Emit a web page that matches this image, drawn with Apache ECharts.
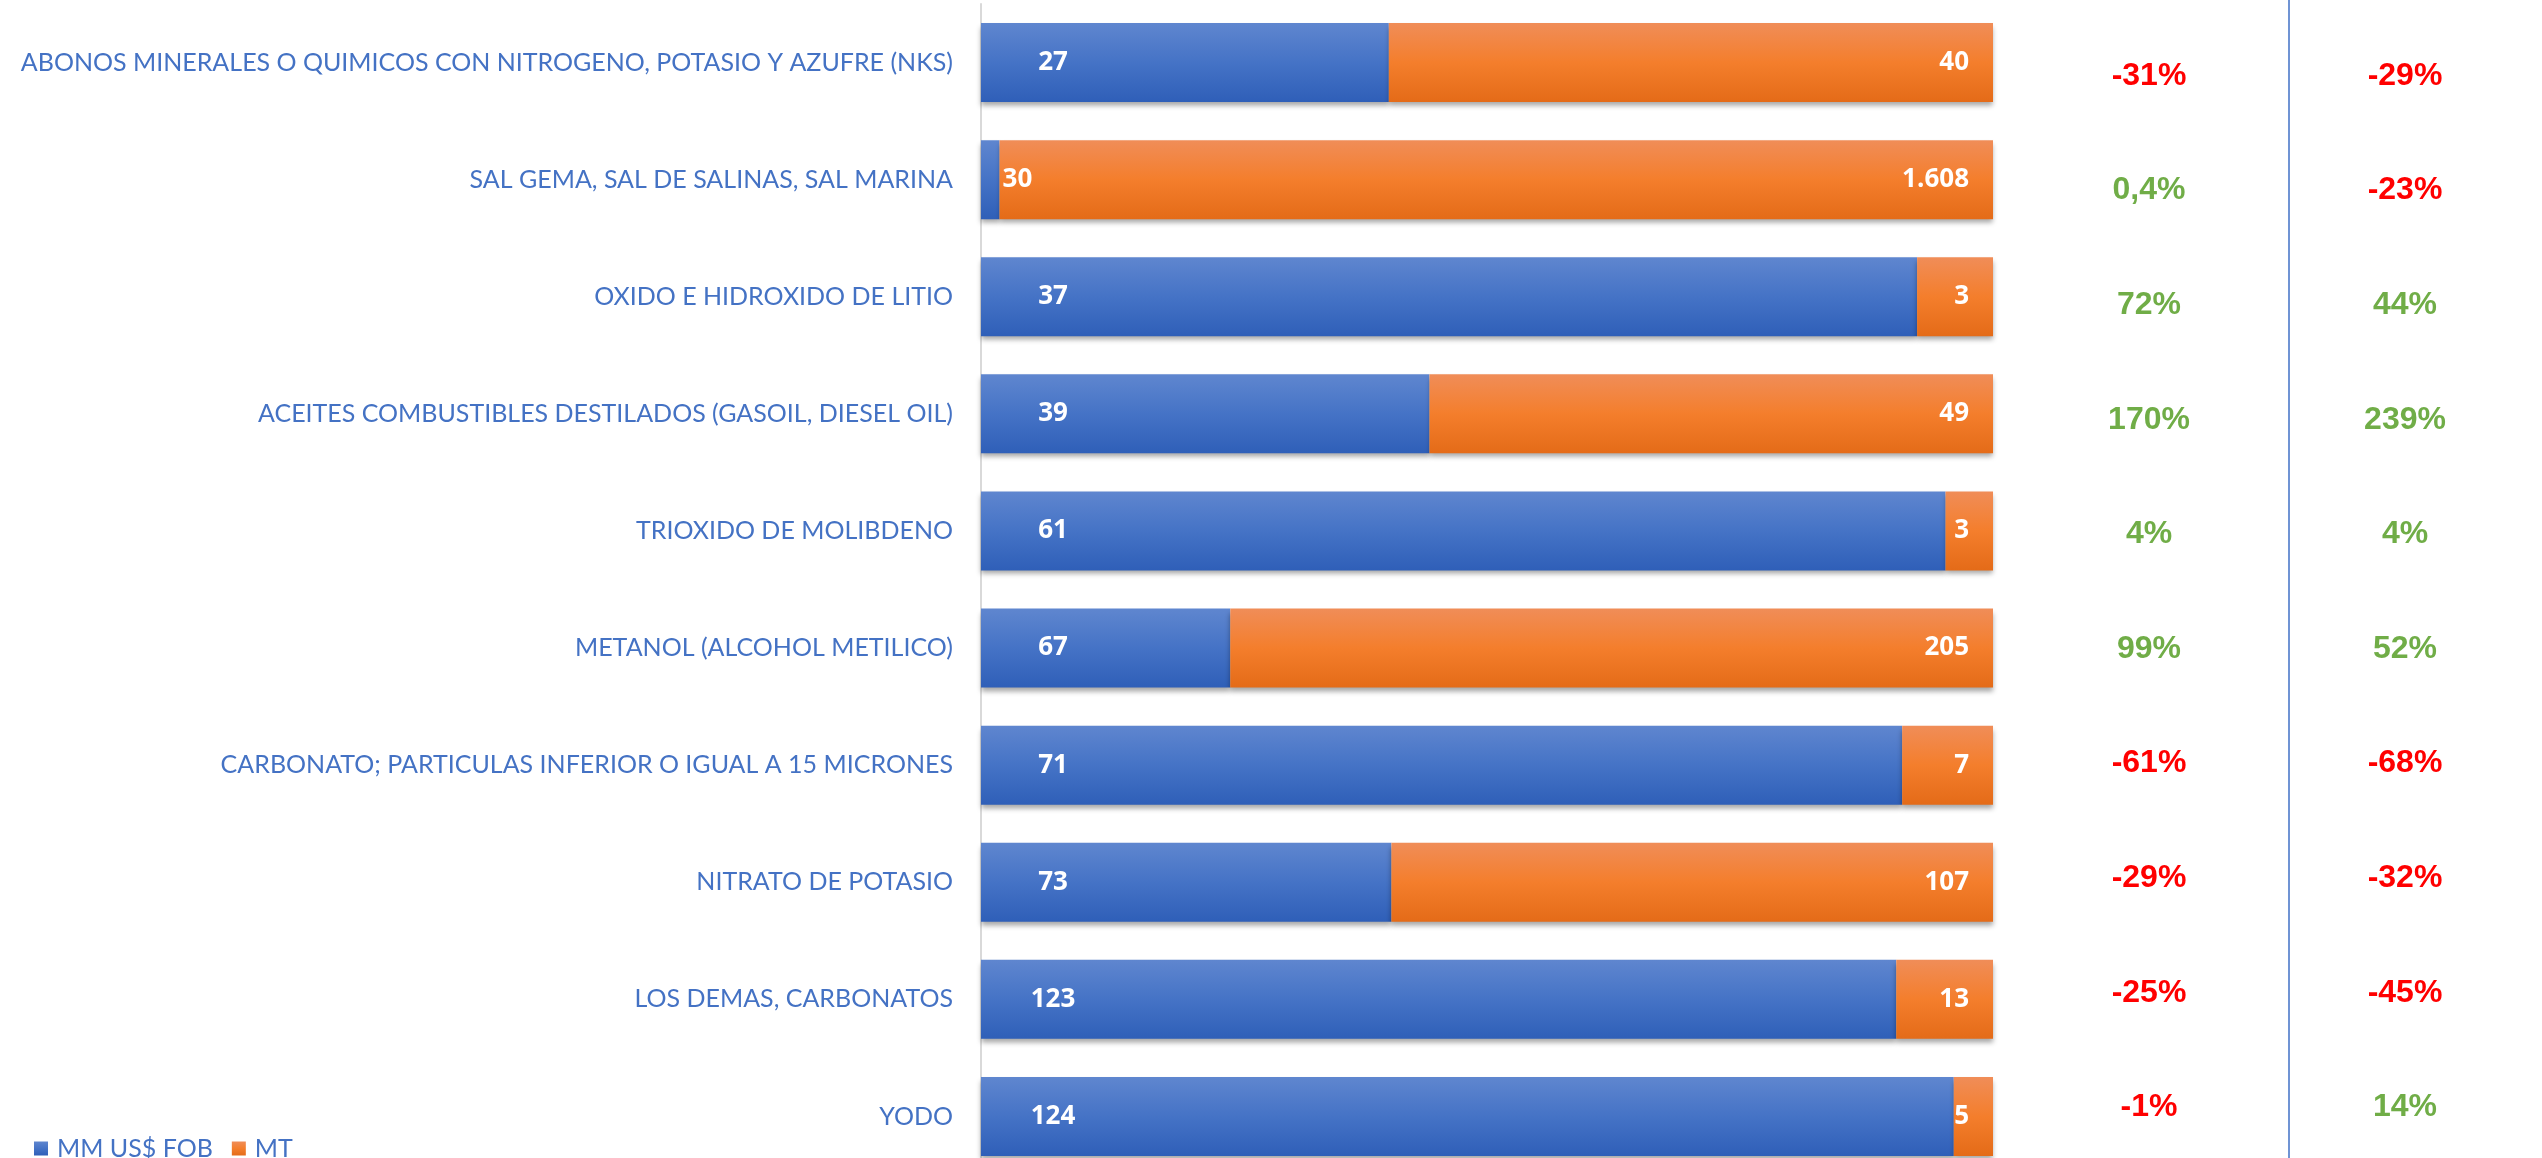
<!DOCTYPE html>
<html>
<head>
<meta charset="utf-8">
<script src="https://cdn.jsdelivr.net/npm/echarts@6/dist/echarts.min.js"></script>
<style>
html,body{margin:0;padding:0;background:#fff;overflow:hidden;}
#chart{width:2542px;height:1200px;}
</style>
</head>
<body>
<div id="chart"></div>
<script>
const categories = [
  'ABONOS MINERALES O QUIMICOS CON NITROGENO, POTASIO Y AZUFRE (NKS)',
  'SAL GEMA, SAL DE SALINAS, SAL MARINA',
  'OXIDO E HIDROXIDO DE LITIO',
  'ACEITES COMBUSTIBLES DESTILADOS (GASOIL, DIESEL OIL)',
  'TRIOXIDO DE MOLIBDENO',
  'METANOL (ALCOHOL METILICO)',
  'CARBONATO; PARTICULAS INFERIOR O IGUAL A 15 MICRONES',
  'NITRATO DE POTASIO',
  'LOS DEMAS, CARBONATOS',
  'YODO'
];
const fobValues = [27, 30, 37, 39, 61, 67, 71, 73, 123, 124];
const mtValues  = [40, 1608, 3, 49, 3, 205, 7, 107, 13, 5];
const varFob = [-31, 0.4, 72, 170, 4, 99, -61, -29, -25, -1];
const varMt  = [-29, -23, 44, 239, 4, 52, -68, -32, -45, 14];
const seriesNames = ['MM US$ FOB', 'MT'];
const varColumns = ['VAR FOB', 'VAR MT'];

function fmtNum(v){ return String(v).replace(/\B(?=(\d{3})+(?!\d))/g, '.'); }
function fmtPct(v){ return String(v).replace('.', ',') + '%'; }

const blueGrad = new echarts.graphic.LinearGradient(0,0,0,1,[
  {offset:0,color:'#5f86cf'},{offset:0.5,color:'#4573c6'},{offset:1,color:'#2f5fb8'}]);
const orangeGrad = new echarts.graphic.LinearGradient(0,0,0,1,[
  {offset:0,color:'#f08d58'},{offset:0.5,color:'#f47e2c'},{offset:1,color:'#e46b18'}]);

const totals = fobValues.map((v,i)=>v+mtValues[i]);
const fobData = fobValues.map((v,i)=>{
  const share = v/totals[i]*100;
  const item = {value: share};
  if (share < 5) item.label = {position:'right', distance:3, align:'left'};
  return item;
});
const mtData = mtValues.map((v,i)=>({value: v/totals[i]*100}));

const labelFont = {color:'#fff', fontFamily:'Open Sans', fontWeight:'bold', fontSize:26};
const shadow = {shadowColor:'rgba(0,0,0,0.35)', shadowBlur:5, shadowOffsetY:4};
const catFont = 'Lato';

function pctData(arr, col){
  return arr.map((v,i)=>({
    value:[col,i],
    label:{formatter: fmtPct(v), color: v < 0 ? '#ff0000' : '#70ad47'}
  }));
}

const pctLabel = {show:true, position:'inside', fontFamily:'Liberation Sans', fontWeight:'bold', fontSize:32, opacity:1};

const chart = echarts.init(document.getElementById('chart'));
chart.setOption({
  animation:false,
  backgroundColor:'#fff',
  legend:{
    data: seriesNames, left:29, top:1131, icon:'rect', itemWidth:14, itemHeight:14, itemGap:19,
    textStyle:{color:'#4472c4', fontFamily:catFont, fontSize:25, padding:[0,0,0,4]}
  },
  grid:[
    {left:981, width:1012, top:4, height:1171},
    {left:2021, width:512, top:18.7, height:1146}
  ],
  xAxis:[
    {type:'value', min:0, max:100, show:false, gridIndex:0},
    {type:'category', data: varColumns, show:false, gridIndex:1}
  ],
  yAxis:[
    {type:'category', data:categories, inverse:true, gridIndex:0,
     axisLine:{show:true, lineStyle:{color:'#d9d9d9', width:2}},
     axisTick:{show:false},
     axisLabel:{color:'#4472c4', fontFamily:catFont, fontSize:25, margin:28}},
    {type:'category', data:categories, inverse:true, gridIndex:1, show:false}
  ],
  series:[
    {name:seriesNames[0], type:'bar', stack:'t', xAxisIndex:0, yAxisIndex:0,
     barCategoryGap:'32.5%', data:fobData,
     itemStyle:Object.assign({color:blueGrad}, shadow),
     label:Object.assign({show:true, position:[72,'50%'], align:'center', verticalAlign:'middle',
       formatter:p=>fmtNum(fobValues[p.dataIndex])}, labelFont)},
    {name:seriesNames[1], type:'bar', stack:'t', xAxisIndex:0, yAxisIndex:0,
     barCategoryGap:'32.5%', data:mtData,
     itemStyle:Object.assign({color:orangeGrad}, shadow),
     label:Object.assign({show:true, position:'insideRight', distance:24,
       formatter:p=>fmtNum(mtValues[p.dataIndex])}, labelFont)},
    {type:'scatter', xAxisIndex:1, yAxisIndex:1, symbolSize:1,
     itemStyle:{color:'rgba(255,255,255,0)', opacity:1},
     emphasis:{disabled:true},
     data: pctData(varFob, 0), label:pctLabel},
    {type:'scatter', xAxisIndex:1, yAxisIndex:1, symbolSize:1,
     itemStyle:{color:'rgba(255,255,255,0)', opacity:1},
     emphasis:{disabled:true},
     data: pctData(varMt, 1), label:pctLabel}
  ],
  graphic:[
    {type:'line', shape:{x1:2289, y1:0, x2:2289, y2:1200}, style:{stroke:'#7094d4', lineWidth:2}}
  ]
});
</script>
</body>
</html>
